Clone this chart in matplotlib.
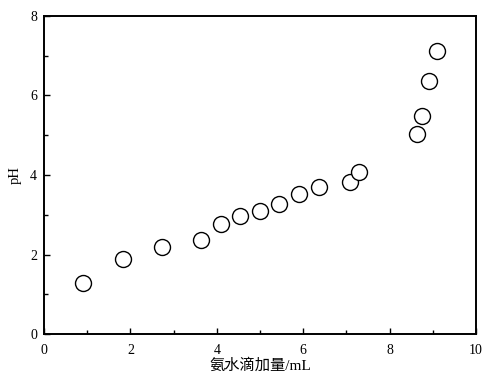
import matplotlib
matplotlib.use("Agg")
import matplotlib.pyplot as plt
from matplotlib.ticker import MultipleLocator

# Titration data: volume of ammonia solution added (mL) vs pH
volume_ml = [0.90, 1.83, 2.74, 3.63, 4.10, 4.54, 4.99, 5.45, 5.91, 6.37,
             7.09, 7.28, 8.64, 8.74, 8.91, 9.10]
ph_values = [1.28, 1.89, 2.18, 2.36, 2.76, 2.98, 3.10, 3.26, 3.51, 3.69,
             3.82, 4.08, 5.04, 5.49, 6.36, 7.13]

x_label = "氨水滴加量/mL"
y_label = "pH"

plt.rcParams["font.family"] = ["Liberation Serif", "Noto Sans CJK SC"]

fig = plt.figure(figsize=(4.84, 3.79), dpi=100)
ax = fig.add_axes([0.0909, 0.1187, 0.8926, 0.8391])

ax.plot(volume_ml, ph_values, linestyle="none", marker="o", markersize=11.5,
        markerfacecolor="white", markeredgecolor="black", markeredgewidth=1.0)

ax.set_xlim(0, 10)
ax.set_ylim(0, 8)
ax.xaxis.set_major_locator(MultipleLocator(2))
ax.xaxis.set_minor_locator(MultipleLocator(1))
ax.yaxis.set_major_locator(MultipleLocator(2))
ax.yaxis.set_minor_locator(MultipleLocator(1))

ax.tick_params(which="both", direction="in", top=False, right=False,
               labelsize=10, width=1.0)
ax.tick_params(axis="x", which="both", pad=7)
ax.tick_params(axis="y", which="both", pad=5)
ax.tick_params(which="major", length=4)
ax.tick_params(which="minor", length=3)

for spine in ax.spines.values():
    spine.set_linewidth(1.4)

ax.set_xlabel(x_label, fontsize=11, labelpad=1)
ax.set_ylabel(y_label, fontsize=10.5, labelpad=6)

fig.savefig("out.png", dpi=100)
